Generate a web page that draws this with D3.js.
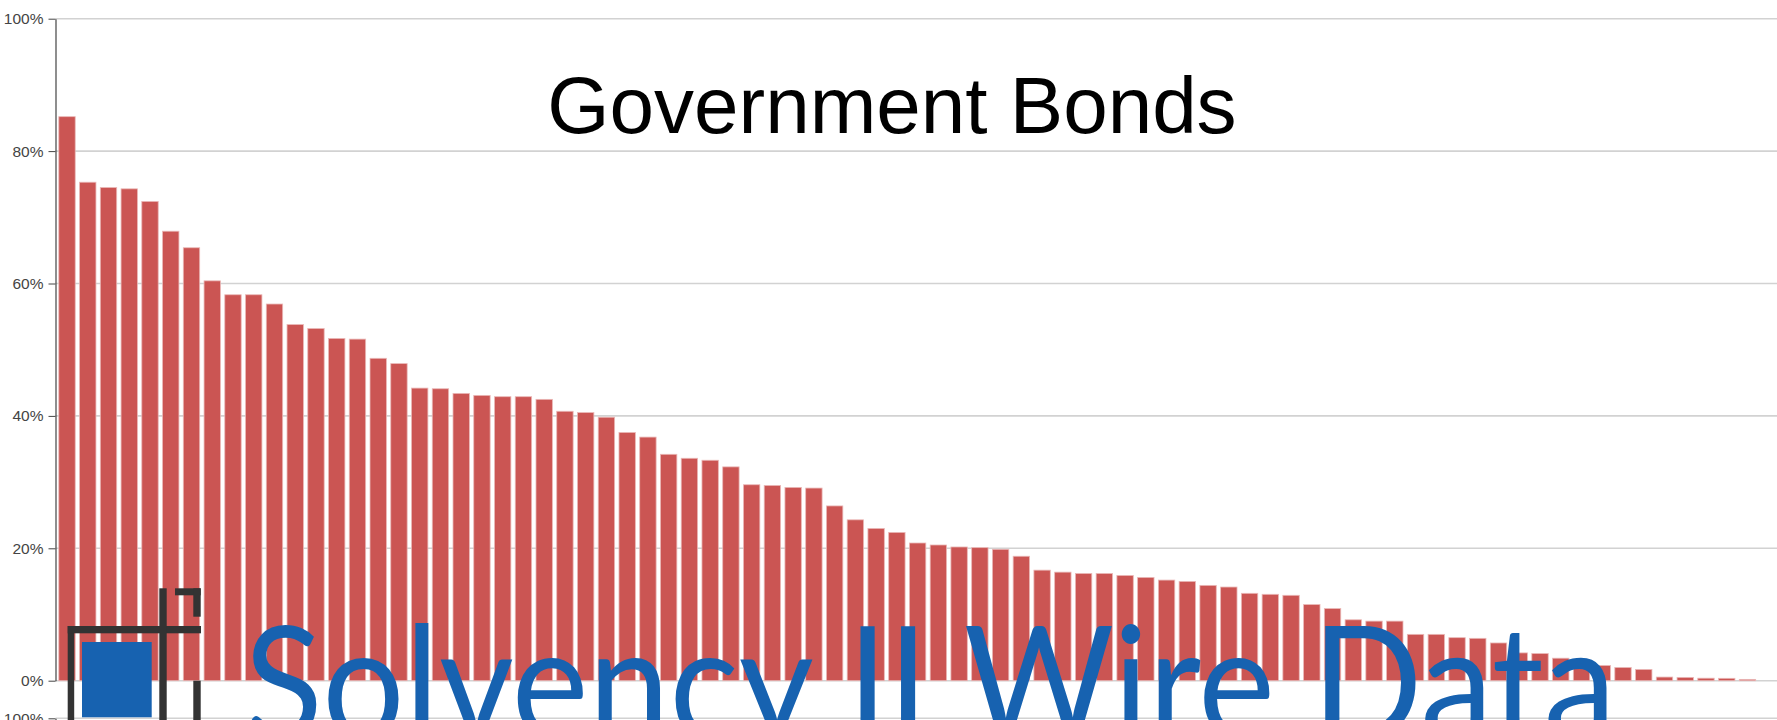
<!DOCTYPE html>
<html>
<head>
<meta charset="utf-8">
<script src="https://cdn.jsdelivr.net/npm/d3@7"></script>
<style>
  html, body { margin: 0; padding: 0; background: #fff; overflow: hidden; }
  svg { display: block; }
</style>
</head>
<body>
<svg id="chart" width="1777" height="720"></svg>
<script>
// ---- data ----
const title = "Government Bonds";
const categories = d3.range(1, 83).map(i => "Undertaking " + i);
const values = [
  85.2, 75.3, 74.5, 74.3, 72.4, 67.9, 65.4, 60.4, 58.3, 58.3,
  56.9, 53.8, 53.2, 51.7, 51.6, 48.7, 47.9, 44.2, 44.1, 43.4,
  43.1, 42.9, 42.9, 42.5, 40.7, 40.5, 39.8, 37.5, 36.8, 34.2,
  33.6, 33.3, 32.3, 29.6, 29.5, 29.2, 29.1, 26.4, 24.3, 23.0,
  22.4, 20.8, 20.5, 20.2, 20.1, 19.85, 18.8, 16.7, 16.4, 16.2,
  16.2, 15.9, 15.6, 15.2, 15.0, 14.4, 14.15, 13.2, 13.05, 12.9,
  11.5, 10.9, 9.2, 9.0, 9.0, 7.0, 7.0, 6.5, 6.4, 5.7,
  4.2, 4.1, 3.4, 3.2, 2.3, 2.0, 1.7, 0.55, 0.5, 0.38,
  0.36, 0.2
];
const yTicks = [0, 20, 40, 60, 80, 100];
const nextChartTicks = [100];
const watermarkText = "Solvency II Wire Data";

// ---- layout ----
const W = 1777, H = 720;
const axisX = 55.5;
const yTop = 18.7, yBottom = 680.7;
const svg = d3.select("#chart");

const x = d3.scaleBand()
  .domain(categories)
  .range([axisX, 1759])
  .paddingInner(0.21)
  .paddingOuter(0.16);

const y = d3.scaleLinear().domain([0, 100]).range([yBottom, yTop]);
// scale for the following (cut-off) chart below
const yNext = d3.scaleLinear().domain([0, 100]).range([718.3 + (yBottom - yTop), 718.3]);

// gridlines
svg.append("g")
  .selectAll("line")
  .data(yTicks)
  .join("line")
  .attr("x1", axisX).attr("x2", W)
  .attr("y1", d => y(d)).attr("y2", d => y(d))
  .attr("stroke", "#d2d2d2")
  .attr("stroke-width", 1.6);

svg.append("g")
  .selectAll("line")
  .data(nextChartTicks)
  .join("line")
  .attr("x1", axisX).attr("x2", W)
  .attr("y1", d => yNext(d)).attr("y2", d => yNext(d))
  .attr("stroke", "#d2d2d2")
  .attr("stroke-width", 1.6);

// bars
svg.append("g")
  .selectAll("rect")
  .data(values)
  .join("rect")
  .attr("x", (d, i) => x(categories[i]))
  .attr("width", x.bandwidth())
  .attr("y", d => y(d))
  .attr("height", d => y(0) - y(d))
  .attr("fill", "#cb5553")
  .attr("stroke", "#eab8b7")
  .attr("stroke-width", 0.8);

// y axis
const fmt = d => d + "%";
const yAxis = svg.append("g")
  .attr("transform", `translate(${axisX},0)`)
  .call(d3.axisLeft(y).tickValues(yTicks).tickFormat(fmt).tickSize(7).tickSizeOuter(0).tickPadding(5));
yAxis.select(".domain").attr("stroke", "#444").attr("stroke-width", 1.2);
yAxis.selectAll(".tick line").attr("stroke", "#444");
yAxis.selectAll("text")
  .attr("fill", "#444")
  .style("font-family", "'Liberation Sans', Arial, Helvetica, sans-serif")
  .style("font-size", "15.5px");

const yAxis2 = svg.append("g")
  .attr("transform", `translate(${axisX},0)`)
  .call(d3.axisLeft(yNext).tickValues(nextChartTicks).tickFormat(fmt).tickSize(7).tickSizeOuter(0).tickPadding(5));
yAxis2.select(".domain").attr("stroke", "#444").attr("stroke-width", 1.2);
yAxis2.selectAll(".tick line").attr("stroke", "#444");
yAxis2.selectAll("text")
  .attr("fill", "#444")
  .style("font-family", "'Liberation Sans', Arial, Helvetica, sans-serif")
  .style("font-size", "15.5px");

// title
svg.append("text")
  .attr("x", 892)
  .attr("y", 133)
  .attr("text-anchor", "middle")
  .attr("fill", "#000")
  .style("font-family", "'Liberation Sans', Arial, Helvetica, sans-serif")
  .style("font-size", "80px")
  .text(title);

// watermark logo (overlay)
const logo = svg.append("g");
const dark = "#333333", blue = "#1762b0";
const pieces = [
  [67.7, 626, 6.5, 100, dark],     // left frame vertical
  [67.7, 626, 133.3, 7.3, dark],   // frame top horizontal
  [159.3, 588.3, 7.4, 140, dark],  // inner vertical
  [175, 588.3, 25.7, 7, dark],     // corner bracket horizontal
  [193.3, 588.3, 7.4, 28.4, dark], // corner bracket vertical
  [193.3, 680.7, 7.4, 50, dark],   // right frame lower vertical
  [82, 642, 69.7, 75.3, blue]      // blue square
];
logo.selectAll("rect")
  .data(pieces)
  .join("rect")
  .attr("x", d => d[0]).attr("y", d => d[1])
  .attr("width", d => d[2]).attr("height", d => d[3])
  .attr("fill", d => d[4]);

logo.append("text")
  .attr("x", 244)
  .attr("y", 739)
  .attr("fill", blue)
  .attr("textLength", 1372)
  .attr("lengthAdjust", "spacingAndGlyphs")
  .style("font-family", "Lato, 'Open Sans', sans-serif")
  .style("font-size", "158px")
  .style("font-weight", 400)
  .text(watermarkText);
</script>
</body>
</html>
